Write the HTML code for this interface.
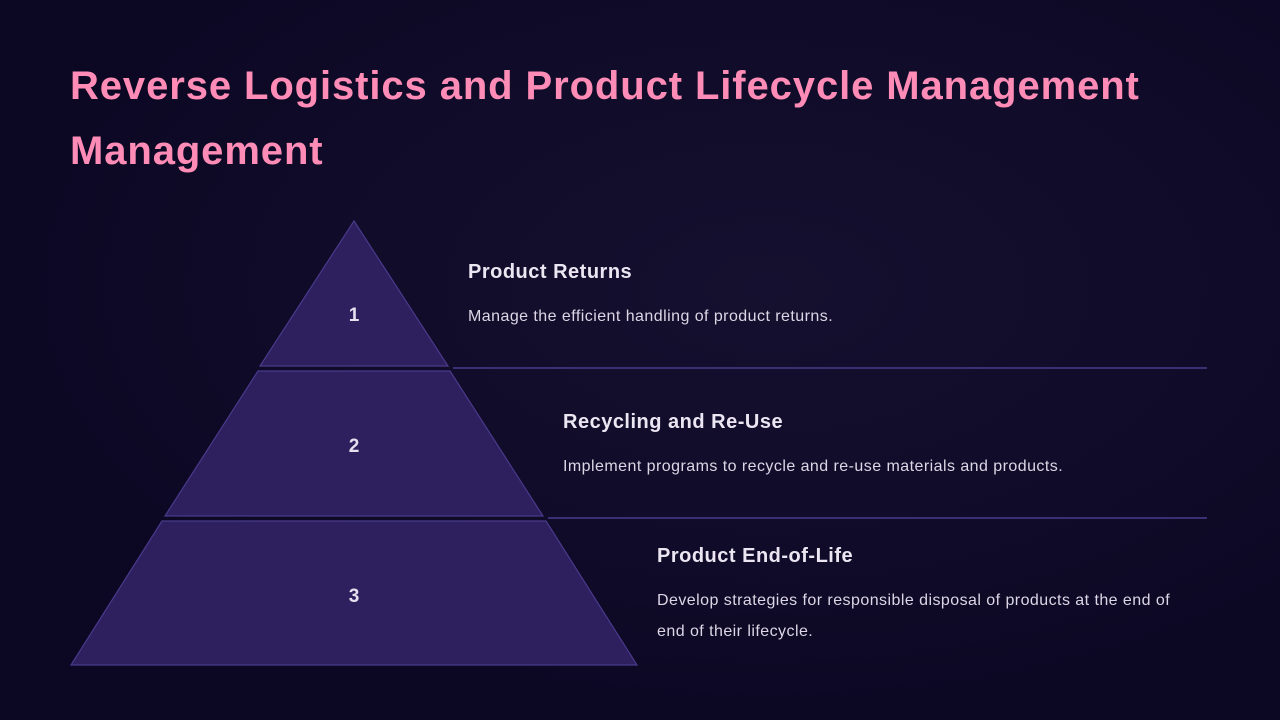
<!DOCTYPE html>
<html><head><meta charset="utf-8"><style>
html,body{margin:0;padding:0;}
body{width:1280px;height:720px;overflow:hidden;background:radial-gradient(ellipse at 60% 40%,#15102f 0%,#0c0824 70%);font-family:"Liberation Sans",sans-serif;position:relative;}
.t{position:absolute;left:70px;color:#ff8cb6;font-weight:bold;font-size:40px;letter-spacing:0.9px;white-space:nowrap;}
.h{position:absolute;color:#ece6f2;font-weight:bold;font-size:20px;letter-spacing:0.5px;white-space:nowrap;}
.p{position:absolute;color:#ddd6e6;font-size:16px;letter-spacing:0.45px;white-space:nowrap;}
</style></head><body>
<div class="t" style="top:64px">Reverse Logistics and Product Lifecycle Management</div>
<div class="t" style="top:129px">Management</div>
<svg width="1280" height="720" style="position:absolute;left:0;top:0">
<g fill="#2e1f5e" stroke="#4a3a8c" stroke-width="1.2">
<polygon points="354,221 448,366 260,366"/>
<polygon points="258,371 450,371 543,516 165,516"/>
<polygon points="162,521 546,521 637,665 71,665"/>
</g>
<g stroke="#4a3a8c" stroke-width="1.5">
<line x1="453" y1="368" x2="1207" y2="368"/>
<line x1="548" y1="518" x2="1207" y2="518"/>
</g>
<g fill="#e6e0ee" font-family="Liberation Sans" font-weight="bold" font-size="19" text-anchor="middle">
<text x="354" y="321">1</text>
<text x="354" y="452">2</text>
<text x="354" y="602">3</text>
</g>
</svg>
<div class="h" style="left:468px;top:261px">Product Returns</div>
<div class="p" style="left:468px;top:308px">Manage the efficient handling of product returns.</div>
<div class="h" style="left:563px;top:411px">Recycling and Re-Use</div>
<div class="p" style="left:563px;top:458px">Implement programs to recycle and re-use materials and products.</div>
<div class="h" style="left:657px;top:545px">Product End-of-Life</div>
<div class="p" style="left:657px;top:592px">Develop strategies for responsible disposal of products at the end of</div>
<div class="p" style="left:657px;top:623px">end of their lifecycle.</div>
</body></html>
